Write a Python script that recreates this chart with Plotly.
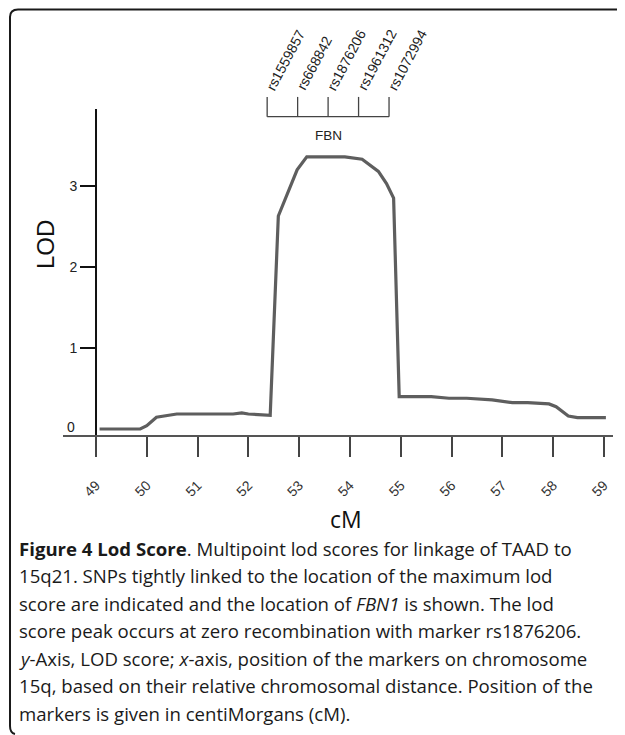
import plotly.graph_objects as go

# ---- data ----
cm = [49.07, 49.87, 50.0, 50.19, 50.59, 51.7, 51.87, 52.0, 52.43, 52.59, 52.96, 53.15,
      53.9, 54.24, 54.56, 54.72, 54.86, 54.97, 55.6, 55.95, 56.3, 56.8, 57.2, 57.5,
      57.92, 58.06, 58.3, 58.48, 59.04]
lod = [0.0, 0.0, 0.04, 0.145, 0.185, 0.185, 0.2, 0.185, 0.17, 2.63, 3.2, 3.36,
       3.36, 3.33, 3.18, 3.03, 2.85, 0.40, 0.40, 0.38, 0.38, 0.36, 0.325, 0.325,
       0.31, 0.275, 0.16, 0.14, 0.14]

x_ticks = [49, 50, 51, 52, 53, 54, 55, 56, 57, 58, 59]
y_ticks = [1, 2, 3]
snp_names = ["rs1559857", "rs668842", "rs1876206", "rs1961312", "rs1072994"]
snp_pos = [52.37, 52.97, 53.57, 54.17, 54.77]
gene_label = "FBN"

caption_lines = [
    "<b>Figure 4 Lod Score</b>. Multipoint lod scores for linkage of TAAD to",
    "15q21. SNPs tightly linked to the location of the maximum lod",
    "score are indicated and the location of <i>FBN1</i> is shown. The lod",
    "score peak occurs at zero recombination with marker rs1876206.",
    "<i>y</i>-Axis, LOD score; <i>x</i>-axis, position of the markers on chromosome",
    "15q, based on their relative chromosomal distance. Position of the",
    "markers is given in centiMorgans (cM).",
]

# ---- layout geometry (screen px; page body has an 8px margin) ----
OFF = 8
W, H = 625, 735
PL, PR, PT, PB = 63, 613, 80, 435          # plot area in screen px
ML, MT = PL - OFF, PT - OFF
PW, PH = PR - PL, PB - PT
MR, MB = W - ML - PW, H - MT - PH
X_RANGE = [48.35, 59.18]
Y_RANGE = [-0.074, 4.309]
Y_AXIS_TOP = 3.95
BRACKET_Y, SNP_TICK_TOP, GENE_Y = 3.856, 4.10, 3.63


def px(x, y):
    """screen pixel -> paper coords"""
    return (x - PL) / PW, (PB - y) / PH


fig = go.Figure()
fig.add_trace(go.Scatter(x=cm, y=lod, mode="lines",
                         line=dict(color="#5e5e5e", width=3.2),
                         hoverinfo="skip", showlegend=False))

shapes = []
shapes.append(dict(type="line", xref="x", yref="y", x0=49, x1=49, y0=Y_RANGE[0], y1=Y_AXIS_TOP,
                   line=dict(color="#111", width=2)))
shapes.append(dict(type="line", xref="x", yref="y", x0=snp_pos[0], x1=snp_pos[-1],
                   y0=BRACKET_Y, y1=BRACKET_Y, line=dict(color="#444", width=1.3)))
for p in snp_pos:
    shapes.append(dict(type="line", xref="x", yref="y", x0=p, x1=p,
                       y0=BRACKET_Y, y1=SNP_TICK_TOP, line=dict(color="#444", width=1.3)))
p1 = px(640, 9.5); p2 = px(18, 9.5); c1 = px(10, 9.5); p3 = px(10, 17); p4 = px(10, 726)
c2 = px(10, 733); p5 = px(15, 734)
path = (f"M {p1[0]},{p1[1]} L {p2[0]},{p2[1]} Q {c1[0]},{c1[1]} {p3[0]},{p3[1]} "
        f"L {p4[0]},{p4[1]} Q {c2[0]},{c2[1]} {p5[0]},{p5[1]}")
shapes.append(dict(type="path", xref="paper", yref="paper", path=path,
                   line=dict(color="#1a1a1a", width=2)))

ann = []
for name, p in zip(snp_names, snp_pos):
    ann.append(dict(x=p, y=SNP_TICK_TOP + 0.02, xref="x", yref="y", text=name,
                    textangle=-62, xanchor="left", yanchor="bottom", xshift=-7,
                    showarrow=False, font=dict(family="Arial, Liberation Sans", size=14, color="#222")))
ann.append(dict(x=snp_pos[2], y=GENE_Y, xref="x", yref="y", text=gene_label, showarrow=False,
                font=dict(family="Arial, Liberation Sans", size=13.5, color="#222")))
zx, zy = px(71, 427)
ann.append(dict(x=zx, y=zy, xref="paper", yref="paper", text="0", showarrow=False,
                xanchor="center", yanchor="middle",
                font=dict(family="Arial, Liberation Sans", size=14, color="#222")))
tx, ty = px(346, 519)
ann.append(dict(x=tx, y=ty, xref="paper", yref="paper", text="cM", showarrow=False,
                xanchor="center", yanchor="middle",
                font=dict(family="Open Sans", size=23, color="#111")))
lx, ly = px(45, 245)
ann.append(dict(x=lx, y=ly, xref="paper", yref="paper", text="LOD", showarrow=False,
                textangle=-90, xanchor="center", yanchor="middle",
                font=dict(family="Arial, Liberation Sans", size=24, color="#111")))
for i, line in enumerate(caption_lines):
    cx, cy = px(17, 548 + i * 27.5)
    ann.append(dict(x=cx, y=cy, xref="paper", yref="paper", text=line, showarrow=False,
                    xanchor="left", yanchor="middle", align="left",
                    font=dict(family="Open Sans", size=18.6, color="#1a1a1a")))

fig.update_layout(
    width=W, height=H, margin=dict(l=ML, r=MR, t=MT, b=MB),
    paper_bgcolor="white", plot_bgcolor="white",
    shapes=shapes, annotations=ann, showlegend=False,
    xaxis=dict(range=X_RANGE, tickvals=x_ticks, ticktext=[str(v) for v in x_ticks],
               showgrid=False, zeroline=False, showline=True, linecolor="#555", linewidth=1.5,
               ticks="outside", ticklen=20, tickwidth=1.5, tickcolor="#444",
               tickangle=-45, ticklabelstandoff=15,
               tickfont=dict(family="Arial, Liberation Sans", size=14, color="#333")),
    yaxis=dict(range=Y_RANGE, tickvals=y_ticks, ticktext=[str(v) for v in y_ticks],
               anchor="free", position=(96 - PL) / PW, showline=False,
               showgrid=False, zeroline=False,
               ticks="outside", ticklen=16, tickwidth=1.8, tickcolor="#111",
               tickfont=dict(family="Arial, Liberation Sans", size=14, color="#222")),
)

fig.write_html("out.html")
